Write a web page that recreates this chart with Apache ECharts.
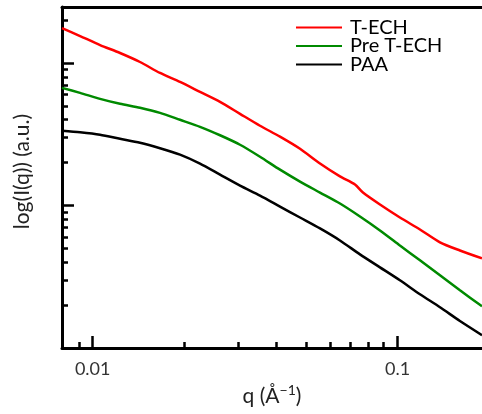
<!DOCTYPE html>
<html>
<head>
<meta charset="utf-8">
<script src="https://cdn.jsdelivr.net/npm/echarts@6/dist/echarts.min.js"></script>
<style>html,body{margin:0;padding:0;background:#fff}#c{width:482px;height:414px}</style>
</head>
<body>
<div id="c"></div>
<script>
// q values (Å^-1)
const qRed = [0.00793,0.00909,0.01057,0.01229,0.01429,0.01662,0.01933,0.02248,0.02615,0.03041,0.03536,0.04112,0.04783,0.05562,0.06467,0.07244,0.07693,0.08747,0.1017,0.1183,0.1376,0.1600,0.1890];
const tEch = [17.57,15.45,13.36,11.75,10.16,8.51,7.36,6.27,5.34,4.40,3.63,3.04,2.50,1.97,1.60,1.403,1.233,1.016,0.824,0.679,0.552,0.484,0.426];
const qCommon = [0.00793,0.00909,0.01057,0.01229,0.01429,0.01662,0.01933,0.02248,0.02615,0.03041,0.03536,0.04112,0.04783,0.05562,0.06467,0.07521,0.08747,0.1017,0.1183,0.1376,0.1600,0.1890];
const preTEch = [6.687,6.17,5.60,5.17,4.85,4.47,3.995,3.567,3.112,2.67,2.20,1.785,1.472,1.233,1.033,0.838,0.669,0.525,0.4125,0.324,0.2544,0.1966];
const paa = [3.346,3.266,3.14,2.941,2.758,2.524,2.273,1.967,1.647,1.380,1.175,0.984,0.824,0.691,0.569,0.4544,0.3685,0.2989,0.2385,0.1935,0.1550,0.1233];
const seriesNames = ['T-ECH','Pre T-ECH','PAA'];
const seriesColors = ['#ff0000','#008a00','#000000'];
const xMajorTicks = [0.01, 0.1];
const xMinorTicks = [0.009,0.02,0.03,0.04,0.05,0.06,0.07,0.08,0.09];
const yMajorTicks = [1, 10];
const yMinorTicks = [0.2,0.3,0.4,0.5,0.6,0.7,0.8,0.9,2,3,4,5,6,7,8,9,20];
const xRange = [0.00793, 0.189];
const yRange = [0.1, 24.7];

const zip = (xs, ys) => xs.map((x, i) => [x, ys[i]]);
const font = 'Lato';
const chart = echarts.init(document.getElementById('c'), null, {renderer: 'canvas'});
const baseX = {type: 'log', logBase: 10, min: xRange[0], max: xRange[1], splitLine: {show: false}, minorTick: {show: false}};
const baseY = {type: 'log', logBase: 10, min: yRange[0], max: yRange[1], splitLine: {show: false}, minorTick: {show: false}};
chart.setOption({
  animation: false,
  textStyle: {fontFamily: font},
  grid: {left: 62, top: 7, right: 0, bottom: 64, containLabel: false},
  legend: {
    data: seriesNames, orient: 'vertical', left: 296, top: 17, padding: 0,
    icon: 'rect', itemWidth: 46, itemHeight: 2, itemGap: -2.5,
    textStyle: {fontFamily: font, fontSize: 20, lineHeight: 21, color: '#000', padding: [0,0,0,3]}
  },
  xAxis: [
    Object.assign({}, baseX, {
      position: 'bottom', name: 'q (Å{sup|−1})', nameLocation: 'middle', nameGap: 31,
      nameTextStyle: {fontFamily: font, fontSize: 21, color: '#222', lineHeight: 26,
        rich: {sup: {fontFamily: font, fontSize: 14, color: '#222', verticalAlign: 'top', lineHeight: 26}}},
      axisLine: {show: true, onZero: false, lineStyle: {color: '#000', width: 3}},
      axisTick: {show: true, inside: true, length: 12, lineStyle: {color: '#000', width: 2.5}, customValues: xMajorTicks},
      axisLabel: {show: true, fontFamily: font, fontSize: 18, color: '#333', margin: 12, customValues: xMajorTicks}
    }),
    Object.assign({}, baseX, {
      position: 'bottom',
      axisLine: {show: false, onZero: false},
      axisTick: {show: true, inside: true, length: 6, lineStyle: {color: '#000', width: 2.5}, customValues: xMinorTicks},
      axisLabel: {show: false}
    }),
    Object.assign({}, baseX, {
      position: 'top',
      axisLine: {show: true, onZero: false, lineStyle: {color: '#000', width: 3}},
      axisTick: {show: false}, axisLabel: {show: false}
    })
  ],
  yAxis: [
    Object.assign({}, baseY, {
      position: 'left', name: 'log(I(q)) (a.u.)', nameLocation: 'middle', nameGap: 29,
      nameTextStyle: {fontFamily: font, fontSize: 21, color: '#222', padding: [0,0,0,12]},
      axisLine: {show: true, onZero: false, lineStyle: {color: '#000', width: 3}},
      axisTick: {show: true, inside: true, length: 12, lineStyle: {color: '#000', width: 2.5}, customValues: yMajorTicks},
      axisLabel: {show: false}
    }),
    Object.assign({}, baseY, {
      position: 'left',
      axisLine: {show: false, onZero: false},
      axisTick: {show: true, inside: true, length: 6, lineStyle: {color: '#000', width: 2.5}, customValues: yMinorTicks},
      axisLabel: {show: false}
    })
  ],
  series: [
    {name: seriesNames[0], type: 'line', data: zip(qRed, tEch), symbol: 'none', smooth: 0.25, lineStyle: {color: seriesColors[0], width: 2.5}, itemStyle: {color: seriesColors[0]}},
    {name: seriesNames[1], type: 'line', data: zip(qCommon, preTEch), symbol: 'none', smooth: 0.25, lineStyle: {color: seriesColors[1], width: 2.5}, itemStyle: {color: seriesColors[1]}},
    {name: seriesNames[2], type: 'line', data: zip(qCommon, paa), symbol: 'none', smooth: 0.25, lineStyle: {color: seriesColors[2], width: 2.5}, itemStyle: {color: seriesColors[2]}}
  ]
});
</script>
</body>
</html>
